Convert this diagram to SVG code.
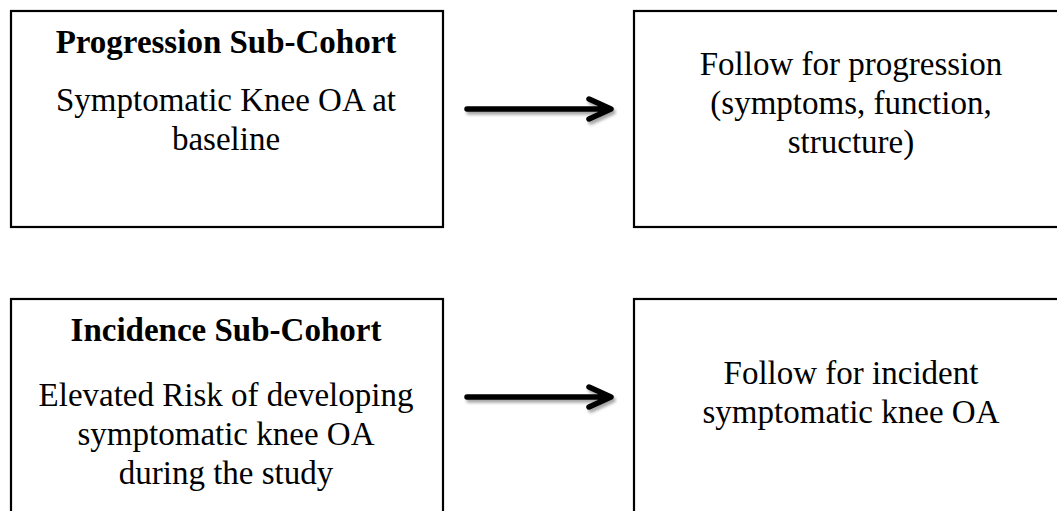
<svg xmlns="http://www.w3.org/2000/svg" width="1057" height="511" viewBox="0 0 1057 511">
<style>
.box{fill:#fff;stroke:#000;stroke-width:2.2}
.t{font-family:"Liberation Serif","Times New Roman",serif;font-size:33px;fill:#000;text-anchor:middle}
.b{font-weight:bold}
.arr{fill:none;stroke:#000;stroke-width:5.5;stroke-linecap:round;stroke-linejoin:round}
</style>
<defs>
<filter id="sh" x="-20%" y="-50%" width="140%" height="200%">
<feDropShadow dx="2" dy="3" stdDeviation="1.8" flood-color="#000" flood-opacity="0.35"/>
</filter>
</defs>
<rect width="1057" height="511" fill="#fff"/>
<g id="progression">
<rect class="box" x="11" y="11" width="432" height="216"/>
<text class="t b" x="226" y="53">Progression Sub-Cohort</text>
<text class="t" x="226" y="111">Symptomatic Knee OA at</text>
<text class="t" x="226" y="150">baseline</text>
</g>
<g id="follow-progression">
<rect class="box" x="634" y="11" width="440" height="216"/>
<text class="t" x="851" y="75">Follow for progression</text>
<text class="t" x="851" y="114">(symptoms, function,</text>
<text class="t" x="851" y="153">structure)</text>
</g>
<g id="incidence">
<rect class="box" x="11" y="299" width="432" height="230"/>
<text class="t b" x="226" y="341">Incidence Sub-Cohort</text>
<text class="t" x="226" y="406">Elevated Risk of developing</text>
<text class="t" x="226" y="445">symptomatic knee OA</text>
<text class="t" x="226" y="484">during the study</text>
</g>
<g id="follow-incident">
<rect class="box" x="634" y="299" width="440" height="230"/>
<text class="t" x="851" y="384">Follow for incident</text>
<text class="t" x="851" y="423">symptomatic knee OA</text>
</g>
<g id="connectors" filter="url(#sh)">
<path class="arr" d="M467 109 H607 M589 99 L611 109 L589 119"/>
<path class="arr" d="M467 397 H607 M589 387 L611 397 L589 407"/>
</g>
</svg>
